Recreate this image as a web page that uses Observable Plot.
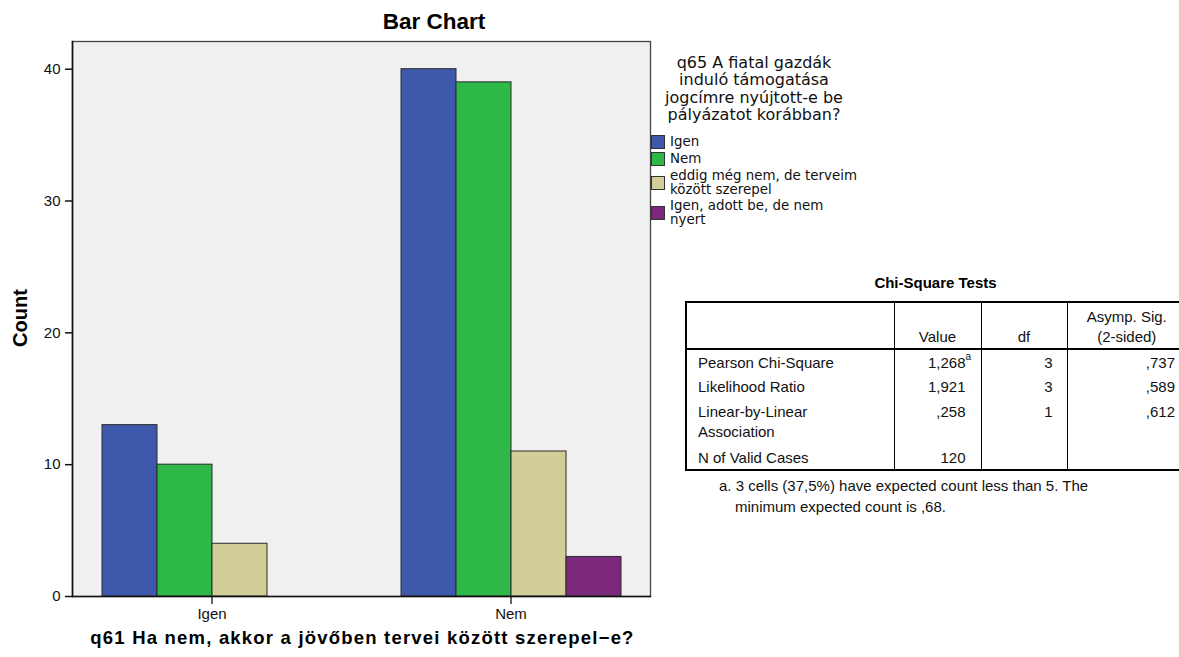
<!DOCTYPE html>
<html>
<head>
<meta charset="utf-8">
<script src="https://cdn.jsdelivr.net/npm/d3@7"></script>
<script src="https://cdn.jsdelivr.net/npm/@observablehq/plot@0.6"></script>
<style>
  html, body { margin: 0; padding: 0; background: #fff; overflow: hidden; }
  #wrap { position: relative; width: 1179px; height: 657px; overflow: hidden; }
  #chart { position: absolute; left: 0; top: 0; }
  .title { position: absolute; left: 234px; width: 400px; top: 9px; text-align: center;
           font: bold 22.5px "Liberation Sans", Arial, sans-serif; color: #000; }
  .xlabel { position: absolute; left: 0px; width: 725px; top: 627px; text-align: center;
            font: bold 18.5px "Liberation Sans", Arial, sans-serif; letter-spacing: 1.2px; color: #000; white-space: nowrap; }
  .ylabel { position: absolute; left: 20px; top: 318px; transform: translate(-50%, -50%) rotate(-90deg);
            font: bold 20px "Liberation Sans", Arial, sans-serif; color: #000; white-space: nowrap; }
  #legend { position: absolute; left: 651px; top: 54px; font-family: "DejaVu Sans", sans-serif; color: #111; }
  #legend .ltitle { position: absolute; left: 13px; width: 180px; top: 0; text-align: center; font-size: 16px; line-height: 17.3px; white-space: nowrap; }
  #legend .items { position: absolute; left: 0; top: 81px; width: 240px; }
  #legend .item { display: flex; align-items: center; margin-bottom: 3px; font-size: 13.4px; line-height: 13.6px; white-space: nowrap; }
  #legend .sw { width: 12px; height: 12px; border: 1px solid #333; margin-right: 5px; flex: none; }
  #tblwrap { position: absolute; left: 685px; top: 274px; font-family: "Liberation Sans", Arial, sans-serif; color: #111; }
  #tblwrap .ttitle { position: absolute; left: 0; width: 501px; top: 0; text-align: center; font-weight: bold; font-size: 15px; color: #000; }
  table { position: absolute; left: 0; top: 27px; border-collapse: collapse; table-layout: fixed; width: 503px;
          font-size: 15px; line-height: 20px; border: 2px solid #000; }
  td, th { padding: 0; font-weight: normal; white-space: nowrap; overflow: visible; }
  th { height: 44px; vertical-align: bottom; padding-bottom: 1px; border-bottom: 2px solid #000; border-left: 1.5px solid #000; text-align: center; }
  td { vertical-align: top; padding-top: 3px; border-left: 1.5px solid #000; }
  tr.r { height: 25px; }
  tr.r2 { height: 46px; }
  td.c0 { text-align: left; padding-left: 11px; }
  td.c1 { text-align: right; padding-right: 15px; }
  td.c2 { text-align: right; padding-right: 14px; }
  td.c3 { text-align: right; padding-right: 11px; }
  .supwrap { position: relative; }
  .supwrap sup { position: absolute; left: 100%; top: -2px; font-size: 10px; line-height: 10px; }
  #foot { position: absolute; left: 34px; top: 202px; width: 480px; font-size: 15px; line-height: 20.6px; white-space: nowrap; }
  #foot .l2 { padding-left: 16px; }
</style>
</head>
<body>
<div id="wrap">
  <div id="chart"></div>
  <div class="title">Bar Chart</div>
  <div class="ylabel">Count</div>
  <div class="xlabel">q61 Ha nem, akkor a jövőben tervei között szerepel−e?</div>
  <div id="legend"></div>
  <div id="tblwrap"></div>
</div>
<script>
// ---- Chart data ----
const groups = ["Igen", "Nem"];
const series = ["Igen", "Nem", "eddig még nem, de terveim között szerepel", "Igen, adott be, de nem nyert"];
const countsIgen = [13, 10, 4, 0];
const countsNem = [40, 39, 11, 3];
const seriesColors = ["#3e58ac", "#2eb848", "#d3ce97", "#7c287d"];
const yTicks = [0, 10, 20, 30, 40];
const legendTitle = ["q65 A fiatal gazdák", "induló támogatása", "jogcímre nyújtott-e be", "pályázatot korábban?"];
const legendLabels = ["Igen", "Nem", "eddig még nem, de terveim<br>között szerepel", "Igen, adott be, de nem<br>nyert"];

// ---- Table data ----
const tableTitle = "Chi-Square Tests";
const tableHeader = ["", "Value", "df", "Asymp. Sig.<br>(2-sided)"];
const rowLabels = ["Pearson Chi-Square", "Likelihood Ratio", "Linear-by-Linear<br>Association", "N of Valid Cases"];
const colValue = ["1,268", "1,921", ",258", "120"];
const colValueNote = ["a", "", "", ""];
const colDf = ["3", "3", "1", ""];
const colSig = [",737", ",589", ",612", ""];
const footnote = ["a. 3 cells (37,5%) have expected count less than 5. The", "minimum expected count is ,68."];

const data = [];
groups.forEach((g, gi) => {
  const vals = gi === 0 ? countsIgen : countsNem;
  series.forEach((s, si) => { if (vals[si] > 0) data.push({group: g, series: s, count: vals[si]}); });
});

// panel (frame) sits inside the outer facet edges
const panelInsetLeft = 10, panelInsetRight = 10;

const chart = Plot.plot({
  width: 660,
  height: 657,
  marginLeft: 61,
  marginRight: 0,
  marginTop: 41,
  marginBottom: 61,
  style: {fontFamily: "'Liberation Sans', Arial, sans-serif", fontSize: "12px", color: "#111", background: "transparent"},
  fx: {domain: groups, padding: 0, label: null},
  x: {domain: series, paddingInner: 0, paddingOuter: 0.698, axis: null},
  y: {domain: [0, 42.1], label: null},
  color: {domain: series, range: seriesColors},
  marks: [
    Plot.frame({fill: "#f0f0f0", facet: "super", insetLeft: panelInsetLeft, insetRight: panelInsetRight}),
    Plot.barY(data, {fx: "group", x: "series", y: "count", fill: "series", stroke: "#2a2a2a", strokeWidth: 1}),
    Plot.frame({stroke: "#444", strokeWidth: 1.3, facet: "super", insetLeft: panelInsetLeft, insetRight: panelInsetRight}),
    Plot.frame({anchor: "left", stroke: "#111", strokeWidth: 1.6, facet: "super", insetLeft: panelInsetLeft}),
    Plot.frame({anchor: "bottom", stroke: "#111", strokeWidth: 1.4, facet: "super", insetLeft: panelInsetLeft, insetRight: panelInsetRight}),
    Plot.axisY({ticks: yTicks, tickSize: 7, tickPadding: 5, label: null, strokeWidth: 1.5, fontSize: 15, dx: panelInsetLeft}),
    Plot.axisFx({anchor: "bottom", tickSize: 8, tickPadding: 4, label: null, strokeWidth: 1.3, fontSize: 15})
  ]
});
document.getElementById("chart").appendChild(chart);

// legend
const lg = document.getElementById("legend");
lg.innerHTML = `<div class="ltitle">${legendTitle.join("<br>")}</div>` +
  `<div class="items">` + series.map((s, i) =>
    `<div class="item"><span class="sw" style="background:${seriesColors[i]}"></span><span>${legendLabels[i]}</span></div>`).join("") +
  `</div>`;

// table
const tw = document.getElementById("tblwrap");
let html = `<div class="ttitle">${tableTitle}</div><table>` +
  `<colgroup><col style="width:208px"><col style="width:87px"><col style="width:86px"><col style="width:120px"></colgroup><tr>` +
  tableHeader.map((h, i) => `<th class="c${i}">${h}</th>`).join("") + `</tr>`;
rowLabels.forEach((r, i) => {
  const v = colValueNote[i] ? `<span class="supwrap">${colValue[i]}<sup>${colValueNote[i]}</sup></span>` : colValue[i];
  html += `<tr class="${r.includes("<br>") ? "r2" : "r"}"><td class="c0">${r}</td><td class="c1">${v}</td><td class="c2">${colDf[i]}</td><td class="c3">${colSig[i]}</td></tr>`;
});
html += `</table><div id="foot"><div>${footnote[0]}</div><div class="l2">${footnote[1]}</div></div>`;
tw.innerHTML = html;
</script>
</body>
</html>
